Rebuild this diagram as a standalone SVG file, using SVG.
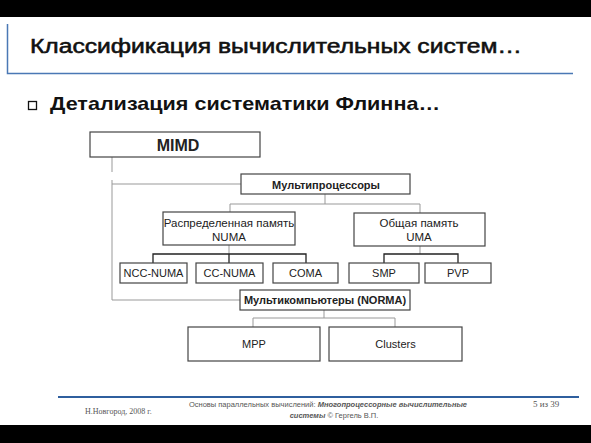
<svg xmlns="http://www.w3.org/2000/svg" width="591" height="443" viewBox="0 0 591 443">
<style>
.box{fill:#fff;stroke:#444;stroke-width:1.2}
.ln{fill:none;stroke:#999;stroke-width:1}
.dk{fill:none;stroke:#222;stroke-width:1.3}
.t{font-family:"Liberation Sans",Arial,sans-serif;fill:#222;text-anchor:middle}
.b{font-weight:bold}
</style>
<rect x="0" y="0" width="591" height="443" fill="#fff"/>
<rect x="0" y="0" width="591" height="17" fill="#000"/>
<rect x="0" y="425" width="591" height="18" fill="#000"/>
<g id="header">
<path d="M7.5,24 V73.5 H573" fill="none" stroke="#4a78b5" stroke-width="1.5"/>
<text x="30" y="53" font-family="'Liberation Sans',Arial,sans-serif" font-size="20" fill="#111" stroke="#111" stroke-width="0.55" textLength="492" lengthAdjust="spacingAndGlyphs">Классификация вычислительных систем…</text>
<rect x="28.5" y="101.5" width="8" height="8" fill="#fff" stroke="#111" stroke-width="1.3"/>
<text x="50" y="110" font-family="'Liberation Sans',Arial,sans-serif" font-size="18.5" font-weight="bold" fill="#111" textLength="390" lengthAdjust="spacingAndGlyphs">Детализация систематики Флинна…</text>
</g>
<g id="connectors">
<path class="ln" d="M112,157 V172 M112,180 V300 H240 M112,184 H241"/>
<path class="ln" d="M325,194 V204 M230,204 H420 M230,204 V212 M420,204 V213"/>
<path class="ln" d="M229,245 V254 M420,246 V254"/>
<path class="dk" d="M153,263 V254 H306 V263 M229,254 V263"/>
<path class="dk" d="M384,263 V254 H458 V263"/>
<path class="ln" d="M324,310 V318 M253,318 H395 M253,318 V327 M395,318 V327"/>
</g>
<g id="mimd"><rect class="box" x="90" y="132" width="170" height="25"/><text class="t b" x="178" y="151" font-size="16">MIMD</text></g>
<g id="multiprocessors"><rect class="box" x="241" y="174" width="169" height="20"/><text class="t b" x="326" y="188.5" font-size="11">Мультипроцессоры</text></g>
<g id="numa"><rect class="box" x="163" y="212" width="132" height="33"/><text class="t" x="229" y="227" font-size="11.5">Распределенная память</text><text class="t" x="229" y="241" font-size="11.5">NUMA</text></g>
<g id="uma"><rect class="box" x="354" y="213" width="131" height="33"/><text class="t" x="419" y="227" font-size="11.5">Общая память</text><text class="t" x="419" y="241" font-size="11.5">UMA</text></g>
<g id="ncc-numa"><rect class="box" x="120" y="263" width="67" height="20"/><text class="t" x="153.5" y="277" font-size="11">NCC-NUMA</text></g>
<g id="cc-numa"><rect class="box" x="196" y="263" width="67" height="20"/><text class="t" x="229.5" y="277" font-size="11">CC-NUMA</text></g>
<g id="coma"><rect class="box" x="273" y="263" width="65" height="20"/><text class="t" x="305.5" y="277" font-size="11">COMA</text></g>
<g id="smp"><rect class="box" x="349" y="263" width="70" height="20"/><text class="t" x="384" y="277" font-size="11">SMP</text></g>
<g id="pvp"><rect class="box" x="425" y="263" width="66" height="20"/><text class="t" x="458" y="277" font-size="11">PVP</text></g>
<g id="multicomputers"><rect class="box" x="240" y="290" width="170" height="20"/><text class="t b" x="325" y="304" font-size="11">Мультикомпьютеры (NORMA)</text></g>
<g id="mpp"><rect class="box" x="188" y="327" width="132" height="34"/><text class="t" x="254" y="348" font-size="11">MPP</text></g>
<g id="clusters"><rect class="box" x="329" y="327" width="133" height="34"/><text class="t" x="395.5" y="348" font-size="11">Clusters</text></g>
<g id="footer">
<line x1="58" y1="397" x2="579" y2="397" stroke="#2f5f9e" stroke-width="2"/>
<text x="85" y="414" font-family="'Liberation Serif','Times New Roman',serif" font-size="8" fill="#555">Н.Новгород, 2008 г.</text>
<text x="328" y="407" font-family="'Liberation Sans',Arial,sans-serif" font-size="7.5" fill="#555" text-anchor="middle">Основы параллельных вычислений: <tspan font-weight="bold" font-style="italic">Многопроцессорные вычислительные</tspan></text>
<text x="334" y="418" font-family="'Liberation Sans',Arial,sans-serif" font-size="7.5" fill="#555" text-anchor="middle"><tspan font-weight="bold" font-style="italic">системы</tspan> © Гергель В.П.</text>
<text x="533" y="407" font-family="'Liberation Serif','Times New Roman',serif" font-size="9" fill="#555">5 из 39</text>
</g>
</svg>
